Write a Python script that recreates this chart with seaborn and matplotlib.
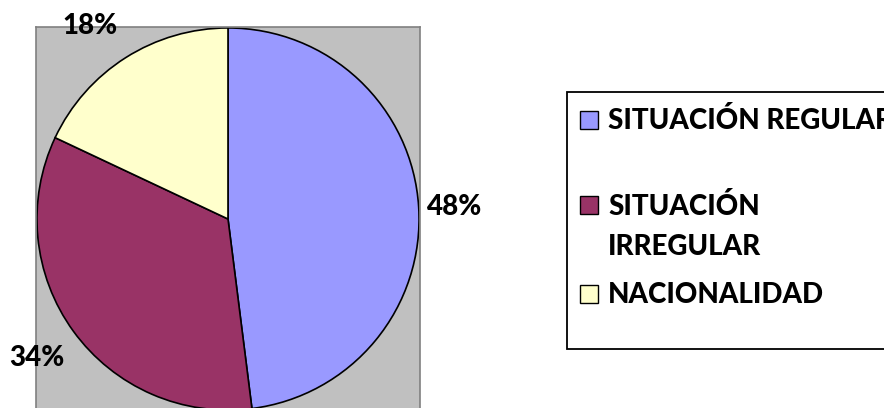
import numpy as np
import matplotlib
matplotlib.use("Agg")
import matplotlib.pyplot as plt
from matplotlib.patches import Rectangle
import seaborn as sns

# ---- data ----
categories = ["SITUACIÓN REGULAR", "SITUACIÓN IRREGULAR", "NACIONALIDAD"]
legend_labels = ["SITUACIÓN REGULAR", "SITUACIÓN\nIRREGULAR", "NACIONALIDAD"]
values = [48, 34, 18]
pct_labels = ["48%", "34%", "18%"]

# ---- style ----
colors = ["#9999FF", "#993366", "#FFFFCC"]
label_radius = [1.19, 1.237, 1.242]
label_angle_shift = [-0.5, 0.0, 3.2]
FS = 20
FW = 900

sns.set_theme(style="white")
plt.rcParams["font.family"] = ["Lato", "DejaVu Sans"]

W, H = 884, 408
fig = plt.figure(figsize=(W / 100, H / 100), dpi=100)
fig.patch.set_facecolor("white")

# plot area (gray) : pixels x 36..420, top 27, square
ax = fig.add_axes([36 / W, (H - 411) / H, 384 / W, 384 / H])
wedges, _ = ax.pie(values, colors=colors, startangle=90, counterclock=False,
                   wedgeprops=dict(edgecolor="black", linewidth=1.2),
                   radius=1.0, frame=True)
ax.set_facecolor("#C0C0C0")
ax.set_xlim(-1.005, 1.005)
ax.set_ylim(-1.005, 1.005)
ax.set_aspect("equal")
ax.set_xticks([])
ax.set_yticks([])
for s in ax.spines.values():
    s.set_visible(True)
    s.set_color("#808080")
    s.set_linewidth(1.2)

for w, lab, r, da in zip(wedges, pct_labels, label_radius, label_angle_shift):
    mid = np.deg2rad((w.theta1 + w.theta2) / 2 + da)
    ax.text(r * np.cos(mid), r * np.sin(mid), lab, ha="center", va="center",
            fontsize=FS, fontweight=FW, color="black", clip_on=False)

# ---- legend (manual) ----
def fx(px):
    return px / W

def fy(py):
    return 1 - py / H

box = Rectangle((fx(567), fy(349)), fx(900) - fx(567), fy(92) - fy(349),
                transform=fig.transFigure, facecolor="white", edgecolor="black",
                linewidth=1.3, zorder=1)
fig.patches.append(box)

sq_top = [111, 196, 285]
text_baseline = [129, 215, 303]
for lab, col, st, tb in zip(legend_labels, colors, sq_top, text_baseline):
    sq = Rectangle((fx(580), fy(st + 18)), fx(18), 18 / H,
                   transform=fig.transFigure, facecolor=col, edgecolor="black",
                   linewidth=1.0, zorder=2)
    fig.patches.append(sq)
    lines = lab.split("\n")
    for i, ln in enumerate(lines):
        fig.text(fx(608), fy(tb + i * 40), ln, ha="left", va="baseline",
                 fontsize=FS, fontweight=FW, color="black", zorder=3)

fig.savefig("out.png", dpi=100)
